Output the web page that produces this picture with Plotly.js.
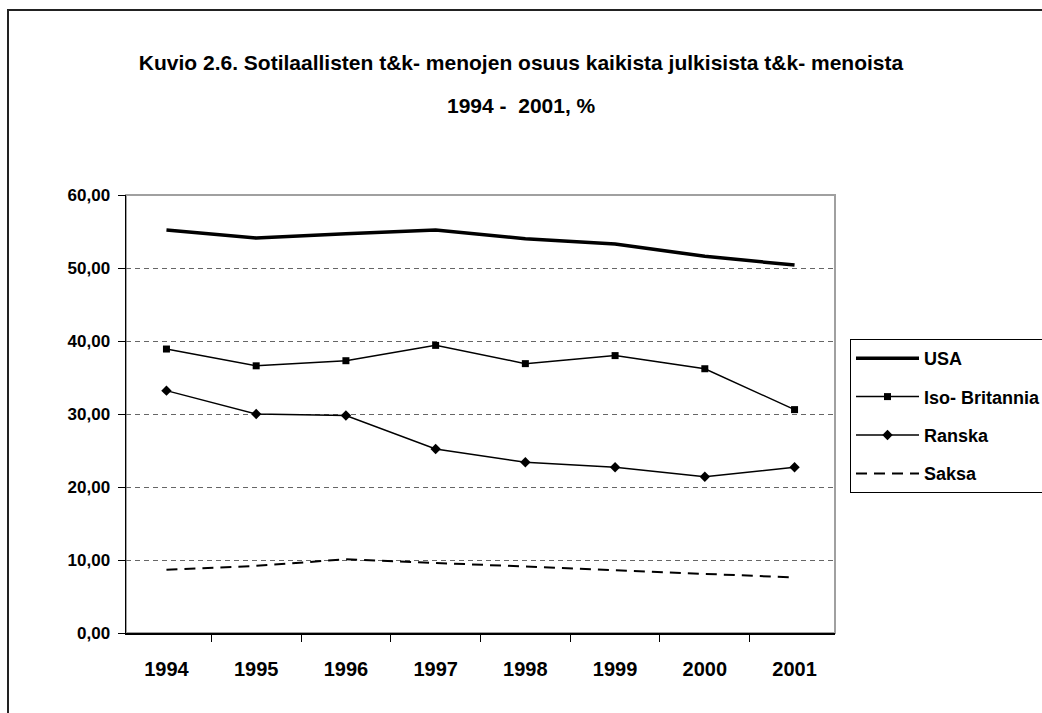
<!DOCTYPE html>
<html>
<head>
<meta charset="utf-8">
<script src="https://cdn.plot.ly/plotly-3.0.1.min.js"></script>
<style>
html, body { margin: 0; padding: 0; background: #fff; }
#chart { width: 1042px; height: 713px; }
</style>
</head>
<body>
<div id="chart"></div>
<script>
// Data
var years = ["1994", "1995", "1996", "1997", "1998", "1999", "2000", "2001"];
var usa = [55.2, 54.1, 54.7, 55.2, 54.0, 53.3, 51.6, 50.4];
var isoBritannia = [38.9, 36.6, 37.3, 39.4, 36.9, 38.0, 36.2, 30.6];
var ranska = [33.2, 30.0, 29.8, 25.2, 23.4, 22.7, 21.4, 22.7];
var saksa = [8.65, 9.2, 10.1, 9.6, 9.0, 8.5, 8.05, 7.6];

var seriesNames = ["USA", "Iso- Britannia", "Ranska", "Saksa"];
var titleLine1 = "Kuvio 2.6. Sotilaallisten t&amp;k- menojen osuus kaikista julkisista t&amp;k- menoista";
var titleLine2 = "1994 -&nbsp; 2001, %";

var FONT = "Liberation Sans, Arial, sans-serif";

var traces = [
  { x: years, y: usa, name: seriesNames[0], type: "scatter", mode: "lines",
    line: { color: "#000", width: 3.5 }, legendgroup: "a" },
  { x: years, y: isoBritannia, name: seriesNames[1], type: "scatter", mode: "lines+markers",
    line: { color: "#000", width: 1.5 }, marker: { symbol: "square", size: 7, color: "#000" }, legendgroup: "b" },
  { x: years, y: ranska, name: seriesNames[2], type: "scatter", mode: "lines+markers",
    line: { color: "#000", width: 1.5 }, marker: { symbol: "diamond", size: 8, color: "#000" }, legendgroup: "c" },
  { x: years, y: saksa, name: seriesNames[3], type: "scatter", mode: "lines",
    line: { color: "#000", width: 2, dash: "11px,7px" }, legendgroup: "d" }
];

var layout = {
  width: 1042, height: 713,
  paper_bgcolor: "#fff", plot_bgcolor: "#fff",
  margin: { l: 126, r: 207, t: 195, b: 80, autoexpand: false },
  font: { family: FONT, color: "#000" },
  showlegend: true,
  title: {
    text: "<b>" + titleLine1 + "</b>",
    font: { family: FONT, size: 21, color: "#000" },
    x: 0.5, xref: "container", xanchor: "center",
    y: 1 - 63 / 713, yref: "container", yanchor: "middle"
  },
  annotations: [{
    text: "<b>" + titleLine2 + "</b>",
    xref: "paper", yref: "paper", x: (521 - 126) / 709,
    y: (633 - 105) / 438, xanchor: "center", yanchor: "middle",
    showarrow: false, font: { family: FONT, size: 21, color: "#000" }
  }],
  xaxis: {
    type: "category",
    showline: true, linecolor: "#000", linewidth: 1.5,
    ticks: "outside", ticklen: 7, tickcolor: "#000", tickwidth: 1,
    tickson: "boundaries",
    showgrid: false, zeroline: false,
    ticklabelstandoff: 17,
    tickfont: { family: FONT, size: 20, color: "#000", weight: "bold" },
    fixedrange: true
  },
  yaxis: {
    range: [0, 60], dtick: 10, tick0: 0,
    tickformat: ".2f",
    showline: true, linecolor: "#000", linewidth: 1.5,
    ticks: "outside", ticklen: 7, tickcolor: "#000", tickwidth: 1,
    showgrid: true, gridcolor: "#666", gridwidth: 1, griddash: "5px,4px",
    zeroline: false,
    ticklabelstandoff: 4,
    tickfont: { family: FONT, size: 17, color: "#000", weight: "bold" },
    fixedrange: true
  },
  separators: ", ",
  legend: {
    x: (850 - 126) / 709, y: (633 - 339) / 438,
    xanchor: "left", yanchor: "top",
    bgcolor: "#fff", bordercolor: "#000", borderwidth: 1,
    font: { family: FONT, size: 18, color: "#000", weight: "bold" },
    itemwidth: 63, tracegroupgap: 12, traceorder: "grouped",
    itemclick: false, itemdoubleclick: false
  },
  shapes: [
    { type: "rect", xref: "paper", yref: "paper", x0: 0, x1: 1, y0: 0, y1: 1,
      line: { color: "#a0a0a0", width: 2 }, layer: "below" },
    { type: "rect", xref: "paper", yref: "paper",
      x0: (8 - 126) / 709, x1: 1.6, y0: -0.5, y1: (633 - 10) / 438,
      line: { color: "#222", width: 2 }, layer: "above" }
  ]
};

Plotly.newPlot("chart", traces, layout, { displayModeBar: false, staticPlot: true });
</script>
</body>
</html>
